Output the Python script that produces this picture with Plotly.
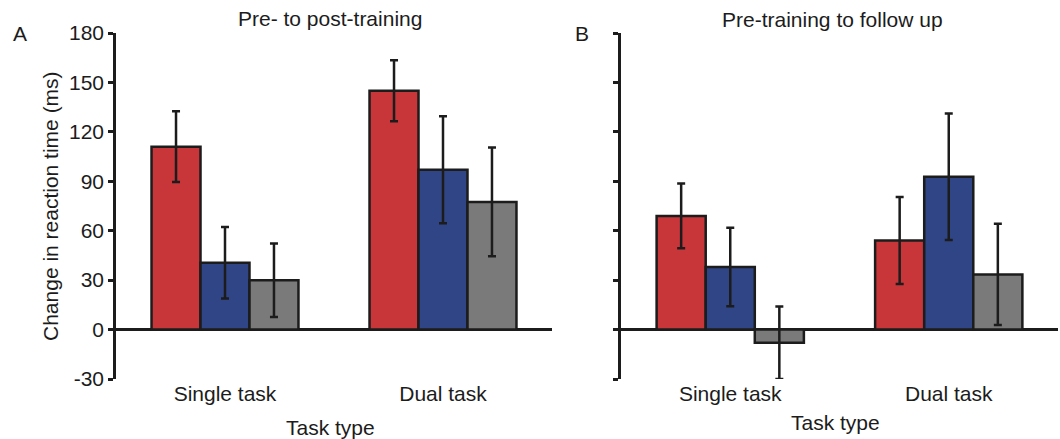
import plotly.graph_objects as go

# ---- data ----
tasks = ["Single task", "Dual task"]
groups = ["Group 1", "Group 2", "Group 3"]

post_vals = {
    "Group 1": [111, 145],
    "Group 2": [40.5, 97],
    "Group 3": [30, 77.5],
}
post_errs = {
    "Group 1": [21.5, 18.5],
    "Group 2": [21.7, 32.5],
    "Group 3": [22.3, 33],
}
fu_vals = {
    "Group 1": [69, 54],
    "Group 2": [38, 92.7],
    "Group 3": [-8, 33.5],
}
fu_errs = {
    "Group 1": [19.7, 26.4],
    "Group 2": [23.8, 38.4],
    "Group 3": [22, 30.7],
}
y_ticks = [-30, 0, 30, 60, 90, 120, 150, 180]
y_tick_text = ["-30", "0", "30", "60", "90", "120", "150", "180"]

colors = {"Group 1": "#C8363A", "Group 2": "#2F4585", "Group 3": "#7A7A7A"}
ink = "#1c1c1c"
FONT = "Liberation Sans, Arial, sans-serif"
FS = 21

W, H = 1060, 439
fig = go.Figure()

for xa, ya, vals, errs in [("x", "y", post_vals, post_errs), ("x2", "y2", fu_vals, fu_errs)]:
    for g in groups:
        fig.add_trace(go.Bar(
            x=tasks, y=vals[g], name=g, xaxis=xa, yaxis=ya,
            marker=dict(color=colors[g], line=dict(color=ink, width=2.5)),
            error_y=dict(type="data", array=errs[g], visible=True,
                         color=ink, thickness=2.5, width=4),
            showlegend=False,
        ))

def px_x(p):
    return p / W

def px_y(p):
    return 1 - p / H

ydom = [px_y(379), px_y(33)]
axis_common = dict(range=[-30, 180], tickvals=y_ticks, ticktext=y_tick_text,
                   ticks="outside", ticklen=5,
                   tickwidth=2.5, tickcolor=ink, showline=True, linecolor=ink,
                   linewidth=2.5, showgrid=False, zeroline=True, zerolinecolor=ink,
                   zerolinewidth=2.5, domain=ydom,
                   tickfont=dict(family=FONT, size=FS, color=ink))
xaxis_common = dict(showline=False, ticks="", showgrid=False, zeroline=False,
                    range=[-0.5, 1.5], type="category",
                    tickfont=dict(family=FONT, size=FS, color=ink))

fig.update_layout(
    width=W, height=H,
    margin=dict(l=0, r=0, t=0, b=0, autoexpand=False),
    paper_bgcolor="white", plot_bgcolor="white",
    barmode="group", bargap=0.326, bargroupgap=0,
    xaxis=dict(domain=[px_x(116), px_x(552)], anchor="y", **xaxis_common),
    xaxis2=dict(domain=[px_x(621), px_x(1058)], anchor="y2", **xaxis_common),
    yaxis=dict(anchor="x", showticklabels=True, **axis_common),
    yaxis2=dict(anchor="x2", showticklabels=False, **axis_common),
    font=dict(family=FONT, size=FS, color=ink),
)

def ann(text, x, y, angle=0, size=FS):
    fig.add_annotation(text=text, x=px_x(x), y=px_y(y), xref="paper", yref="paper",
                       showarrow=False, xanchor="center", yanchor="middle",
                       textangle=angle, font=dict(family=FONT, size=size, color=ink))

ann("Pre- to post-training", 330, 19, size=21)
ann("Pre-training to follow up", 832, 20, size=21)
ann("A", 20, 33)
ann("B", 582, 33)
ann("Change in reaction time (ms)", 50, 206, angle=-90)
ann("Task type", 330, 427)
ann("Task type", 835, 422)

fig.write_html("out.html")
